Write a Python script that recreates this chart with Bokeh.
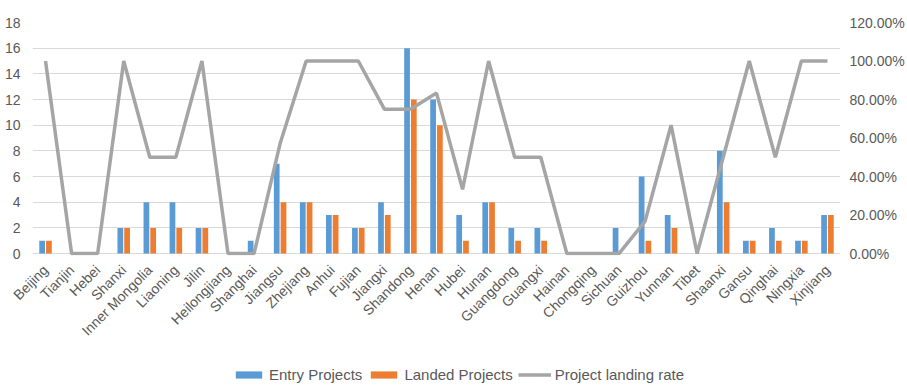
from bokeh.plotting import figure
from bokeh.layouts import column
from bokeh.models import (FactorRange, Range1d, LinearAxis, FixedTicker,
                          NumeralTickFormatter, Legend, LegendItem, ColumnDataSource)
from bokeh.transform import dodge
from bokeh.embed import file_html
from bokeh.resources import INLINE

provinces = ["Beijing", "Tianjin", "Hebei", "Shanxi", "Inner Mongolia", "Liaoning", "Jilin",
             "Heilongjiang", "Shanghai", "Jiangsu", "Zhejiang", "Anhui", "Fujian", "Jiangxi",
             "Shandong", "Henan", "Hubei", "Hunan", "Guangdong", "Guangxi", "Hainan",
             "Chongqing", "Sichuan", "Guizhou", "Yunnan", "Tibet", "Shaanxi", "Gansu",
             "Qinghai", "Ningxia", "Xinjiang"]
entry_projects = [1, 0, 0, 2, 4, 4, 2, 0, 1, 7, 4, 3, 2, 4, 16, 12, 3, 4, 2, 2, 0,
                  0, 2, 6, 3, 0, 8, 1, 2, 1, 3]
landed_projects = [1, 0, 0, 2, 2, 2, 2, 0, 0, 4, 4, 3, 2, 3, 12, 10, 1, 4, 1, 1, 0,
                   0, 0, 1, 2, 0, 4, 1, 1, 1, 3]
landing_rate = [1.0, 0.0, 0.0, 1.0, 0.5, 0.5, 1.0, 0.0, 0.0, 0.5714, 1.0, 1.0, 1.0, 0.75,
                0.75, 0.8333, 0.3333, 1.0, 0.5, 0.5, 0.0, 0.0, 0.0, 0.1667, 0.6667, 0.0,
                0.5, 1.0, 0.5, 1.0, 1.0]
left_ticks = [0, 2, 4, 6, 8, 10, 12, 14, 16, 18]
right_ticks = [0, 0.2, 0.4, 0.6, 0.8, 1.0, 1.2]
series_names = ["Entry Projects", "Landed Projects", "Project landing rate"]

BLUE, ORANGE, GREY = "#5B9BD5", "#ED7D31", "#A5A5A5"
FONT = "Liberation Sans"
TXT = "#595959"

src = ColumnDataSource(dict(cat=provinces, entry=entry_projects,
                            landed=landed_projects, rate=landing_rate))

p = figure(frame_width=808, frame_height=233,
           x_range=FactorRange(factors=provinces, range_padding=0),
           y_range=Range1d(-0.15, 18),
           output_backend="svg", toolbar_location=None,
           min_border_left=32, min_border_right=67, min_border_top=22,
           min_border_bottom=104)
p.outline_line_color = None
p.extra_y_ranges = {"rate": Range1d(-0.01, 1.2)}

p.vbar(x=dodge("cat", -0.13, range=p.x_range), top="entry", width=0.22,
       source=src, fill_color=BLUE, line_color=None)
p.vbar(x=dodge("cat", 0.13, range=p.x_range), top="landed", width=0.22,
       source=src, fill_color=ORANGE, line_color=None)
p.line(x="cat", y="rate", y_range_name="rate", source=src,
       line_color=GREY, line_width=3.5)

p.xgrid.grid_line_color = None
p.ygrid.ticker = FixedTicker(ticks=left_ticks)
p.ygrid.grid_line_color = "#D9D9D9"
p.ygrid.grid_line_width = 1

ya = p.yaxis[0]
ya.ticker = FixedTicker(ticks=left_ticks)
ya.axis_line_color = None
ya.major_tick_line_color = None
ya.minor_tick_line_color = None
ya.major_label_standoff = 6
ya.major_label_text_font = FONT
ya.major_label_text_font_size = "14px"
ya.major_label_text_color = TXT

ra = LinearAxis(y_range_name="rate", ticker=FixedTicker(ticks=right_ticks),
                formatter=NumeralTickFormatter(format="0.00%"))
ra.axis_line_color = None
ra.major_tick_line_color = None
ra.minor_tick_line_color = None
ra.major_label_standoff = 3
ra.major_label_text_font = FONT
ra.major_label_text_font_size = "14px"
ra.major_label_text_color = TXT
p.add_layout(ra, "right")

xa = p.xaxis[0]
xa.axis_line_color = None
xa.major_tick_line_color = None
xa.minor_tick_line_color = None
xa.major_label_orientation = 0.785398
xa.major_label_standoff = 6
xa.major_label_text_font = FONT
xa.major_label_text_font_size = "14px"
xa.major_label_text_color = TXT

# legend strip
lg = figure(width=907, height=25, x_range=Range1d(0, 1), y_range=Range1d(0, 1),
            output_backend="svg", toolbar_location=None,
            min_border_left=0, min_border_right=0, min_border_top=0, min_border_bottom=0)
lg.axis.visible = False
lg.grid.visible = False
lg.outline_line_color = None
r1 = lg.vbar(x=[0.5], top=[0], bottom=[0], width=0, fill_color=BLUE, line_color=None)
r2 = lg.vbar(x=[0.5], top=[0], bottom=[0], width=0, fill_color=ORANGE, line_color=None)
r3 = lg.line(x=[0.5], y=[0.5], line_color=GREY, line_width=3.5)

legend = Legend(items=[LegendItem(label=series_names[0], renderers=[r1]),
                       LegendItem(label=series_names[1], renderers=[r2]),
                       LegendItem(label=series_names[2], renderers=[r3])],
                orientation="horizontal", location=(200, 1))
legend.glyph_width = 33
legend.glyph_height = 9
legend.label_standoff = 4
legend.spacing = 5
legend.padding = 0
legend.margin = 0
legend.border_line_color = None
legend.background_fill_alpha = 0
legend.label_text_font = FONT
legend.label_text_font_size = "15px"
legend.label_text_color = TXT
lg.add_layout(legend, "center")

layout = column(p, lg, spacing=0)
open("out.html", "w").write(file_html(layout, INLINE))
